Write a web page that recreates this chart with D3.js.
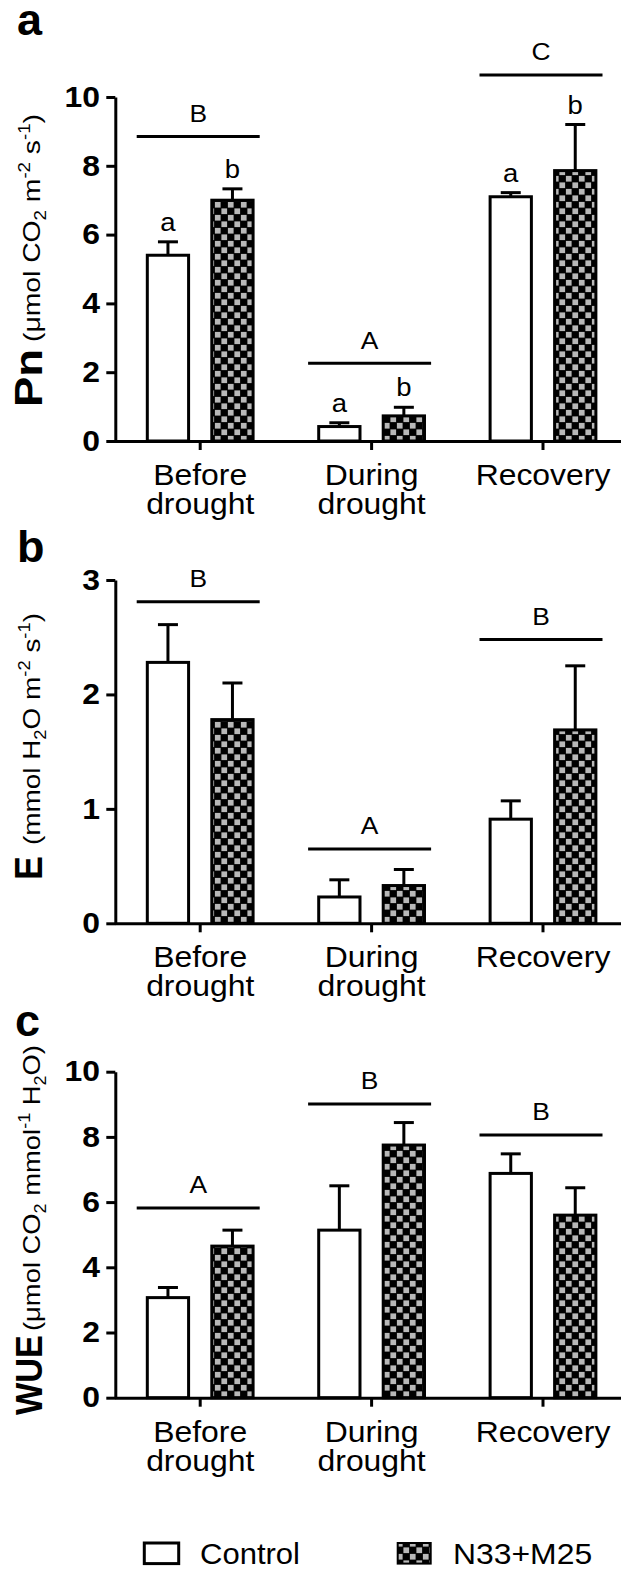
<!DOCTYPE html>
<html><head><meta charset="utf-8">
<script src="https://cdn.jsdelivr.net/npm/d3@7"></script>
<style>html,body{margin:0;padding:0;background:#fff;} svg{display:block;}</style>
</head><body>
<script>
// ---------------- data ----------------
const categories = ["Before drought", "During drought", "Recovery"];
const seriesNames = ["Control", "N33+M25"];

// Panel a: Pn
const pnControl = [5.40, 0.42, 7.10];
const pnControlErr = [0.39, 0.11, 0.12];
const pnTreat = [7.00, 0.73, 7.86];
const pnTreatErr = [0.33, 0.25, 1.34];
const pnControlLetters = ["a", "a", "a"];
const pnTreatLetters = ["b", "b", "b"];
const pnGroupLetters = ["B", "A", "C"];
const pnGroupLevels = [8.85, 2.26, 10.64];
const pnTicks = [0, 2, 4, 6, 8, 10];

// Panel b: E
const eControl = [2.28, 0.23, 0.91];
const eControlErr = [0.33, 0.15, 0.16];
const eTreat = [1.78, 0.33, 1.69];
const eTreatErr = [0.32, 0.14, 0.56];
const eGroupLetters = ["B", "A", "B"];
const eGroupLevels = [2.81, 0.65, 2.48];
const eTicks = [0, 1, 2, 3];

// Panel c: WUE
const wueControl = [3.07, 5.14, 6.88];
const wueControlErr = [0.31, 1.36, 0.60];
const wueTreat = [4.65, 7.75, 5.60];
const wueTreatErr = [0.49, 0.69, 0.84];
const wueGroupLetters = ["A", "B", "B"];
const wueGroupLevels = [5.82, 9.01, 8.06];
const wueTicks = [0, 2, 4, 6, 8, 10];

// ---------------- drawing ----------------
const W = 621, H = 1570;
const FONT = "'Liberation Sans', Arial, Helvetica, sans-serif";
const SX = 1.1;      // horizontal text stretch of the original
const SW = 3;        // line width

const svg = d3.select("body").append("svg").attr("width", W).attr("height", H)
  .style("font-family", FONT);

const defs = svg.append("defs");
const cs = 6.5;
const pat = defs.append("pattern").attr("id", "chk").attr("patternUnits", "userSpaceOnUse")
  .attr("width", cs * 2).attr("height", cs * 2);
pat.append("rect").attr("width", cs * 2).attr("height", cs * 2).attr("fill", "#000");
pat.append("rect").attr("x", 0.4).attr("y", 0.4).attr("width", cs - 0.8).attr("height", cs - 0.8).attr("fill", "#b8b8b8");
pat.append("rect").attr("x", cs + 0.4).attr("y", cs + 0.4).attr("width", cs - 0.8).attr("height", cs - 0.8).attr("fill", "#b8b8b8");

const fills = ["#fff", "url(#chk)"];

function htext(g, x, y, str, size, weight, anchor, sx) {
  return g.append("text")
    .attr("transform", `translate(${x},${y}) scale(${sx || SX},1)`)
    .attr("text-anchor", anchor || "middle")
    .attr("font-size", size).attr("font-weight", weight || "normal")
    .attr("fill", "#000").text(str);
}

function vtext(g, x, y, parts, size, weight, len) {
  const t = g.append("text")
    .attr("transform", `translate(${x},${y}) rotate(-90)`)
    .attr("text-anchor", "start")
    .attr("font-size", size).attr("font-weight", weight).attr("fill", "#000");
  let shift = 0;
  parts.forEach(p => {
    const ts = t.append("tspan");
    let target = 0, fs = size;
    if (p.sub) { target = size * 0.28; fs = size * 0.66; }
    if (p.sup) { target = -size * 0.4; fs = size * 0.66; }
    ts.attr("font-size", fs).attr("dy", target - shift).text(p.t);
    shift = target;
  });
  if (len) t.attr("textLength", len).attr("lengthAdjust", "spacingAndGlyphs");
  return t;
}

function panel(cfg) {
  const g = svg.append("g");
  const y = d3.scaleLinear().domain([0, cfg.max]).range([cfg.y0, cfg.y1]);
  const x = d3.scaleBand().domain(categories).range([114.5, 628.7]);
  const xs = d3.scaleBand().domain(seriesNames).range([-64.5, 64.5])
    .paddingInner(0.36).paddingOuter(0.18);
  const half = x.bandwidth() / 2;

  const rows = [];
  categories.forEach((c, i) => seriesNames.forEach((s, j) => {
    rows.push({ c, s, j, v: cfg.vals[j][i], e: cfg.errs[j][i],
      l: cfg.letters ? cfg.letters[j][i] : null });
  }));

  const bx = d => x(d.c) + half + xs(d.s);

  // bars
  g.selectAll("rect.bar").data(rows).join("rect").attr("class", "bar")
    .attr("x", d => bx(d)).attr("width", xs.bandwidth())
    .attr("y", d => y(d.v)).attr("height", d => y(0) - y(d.v))
    .attr("fill", d => fills[d.j]).attr("stroke", "#000").attr("stroke-width", SW);

  // error bars (upper only)
  const cx = d => bx(d) + xs.bandwidth() / 2;
  g.selectAll("line.err").data(rows).join("line").attr("class", "err")
    .attr("x1", cx).attr("x2", cx)
    .attr("y1", d => y(d.v)).attr("y2", d => y(d.v + d.e))
    .attr("stroke", "#000").attr("stroke-width", SW);
  g.selectAll("line.cap").data(rows).join("line").attr("class", "cap")
    .attr("x1", d => cx(d) - 10).attr("x2", d => cx(d) + 10)
    .attr("y1", d => y(d.v + d.e)).attr("y2", d => y(d.v + d.e))
    .attr("stroke", "#000").attr("stroke-width", SW);

  // bar letters
  if (cfg.letters) {
    rows.forEach(d => htext(g, cx(d), y(d.v + d.e) - 11, d.l, 25));
  }

  // group lines + letters
  categories.forEach((c, i) => {
    const mid = x(c) + half - 2;
    const yy = y(cfg.groupLevels[i]);
    g.append("line").attr("x1", mid - 61.5).attr("x2", mid + 61.5)
      .attr("y1", yy).attr("y2", yy).attr("stroke", "#000").attr("stroke-width", SW);
    htext(g, mid, yy - 14.5, cfg.groupLetters[i], 24);
  });

  // y axis
  const ya = g.append("g").attr("transform", "translate(115.3,0)")
    .call(d3.axisLeft(y).tickValues(cfg.ticks).tickSize(9).tickSizeOuter(0)
      .tickPadding(5).tickFormat(d3.format("d")));
  ya.select(".domain").attr("stroke-width", SW);
  ya.selectAll(".tick line").attr("stroke-width", SW);
  ya.selectAll(".tick text")
    .attr("font-family", FONT).attr("font-size", 29).attr("font-weight", "bold")
    .attr("fill", "#000")
    .attr("x", -15.3 / SX).attr("transform", `scale(${SX},1)`);

  // x axis
  const xa = g.append("g").attr("transform", `translate(0,${cfg.y0})`)
    .call(d3.axisBottom(x).tickSize(9).tickSizeOuter(0));
  xa.select(".domain").attr("stroke-width", SW);
  xa.selectAll(".tick line").attr("stroke-width", SW);
  xa.selectAll(".tick text").remove();

  categories.forEach(c => {
    const t = htext(g, x(c) + half, cfg.y0 + 44, null, 29);
    const words = c === "Recovery" ? [c] : c.split(" ");
    words.forEach((w, k) => t.append("tspan").attr("x", 0).attr("dy", k ? 29 : 0).text(w));
  });

  // y title
  vtext(g, 41.5, cfg.title.y, [{ t: cfg.title.bold }], cfg.title.bsize, "bold", cfg.title.blen);
  vtext(g, 39.5, cfg.title.uy, cfg.title.unit, 24, "normal", cfg.title.ulen);

  // panel letter
  g.append("text").attr("x", cfg.tag.x).attr("y", cfg.tag.y)
    .attr("font-size", 45).attr("font-weight", "bold").text(cfg.tag.t);
}

panel({
  y0: 441, y1: 97, max: 10, ticks: pnTicks,
  vals: [pnControl, pnTreat], errs: [pnControlErr, pnTreatErr],
  letters: [pnControlLetters, pnTreatLetters],
  groupLetters: pnGroupLetters, groupLevels: pnGroupLevels,
  title: { bold: "Pn", y: 407, bsize: 38, blen: 58, uy: 342, ulen: 228,
    unit: [{ t: "(\u03BCmol CO" }, { t: "2", sub: 1 }, { t: " m" }, { t: "-2", sup: 1 },
           { t: " s" }, { t: "-1", sup: 1 }, { t: ")" }] },
  tag: { t: "a", x: 17, y: 35 }
});

panel({
  y0: 923.3, y1: 580, max: 3, ticks: eTicks,
  vals: [eControl, eTreat], errs: [eControlErr, eTreatErr],
  letters: null,
  groupLetters: eGroupLetters, groupLevels: eGroupLevels,
  title: { bold: "E", y: 880, bsize: 38, blen: 24, uy: 845, ulen: 232,
    unit: [{ t: "(mmol H" }, { t: "2", sub: 1 }, { t: "O m" }, { t: "-2", sup: 1 },
           { t: " s" }, { t: "-1", sup: 1 }, { t: ")" }] },
  tag: { t: "b", x: 17, y: 561.5 }
});

panel({
  y0: 1397.7, y1: 1071.7, max: 10, ticks: wueTicks,
  vals: [wueControl, wueTreat], errs: [wueControlErr, wueTreatErr],
  letters: null,
  groupLetters: wueGroupLetters, groupLevels: wueGroupLevels,
  title: { bold: "WUE", y: 1415, bsize: 37, blen: 80, uy: 1331, ulen: 286,
    unit: [{ t: "(\u03BCmol CO" }, { t: "2", sub: 1 }, { t: " mmol" }, { t: "-1", sup: 1 },
           { t: " H" }, { t: "2", sub: 1 }, { t: "O)" }] },
  tag: { t: "c", x: 15, y: 1036 }
});

// legend
const lg = svg.append("g");
lg.append("rect").attr("x", 144.3).attr("y", 1543).attr("width", 34.4).attr("height", 20.6)
  .attr("fill", fills[0]).attr("stroke", "#000").attr("stroke-width", SW);
htext(lg, 200, 1564, seriesNames[0], 29, "normal", "start", 1.07);
lg.append("rect").attr("x", 397.7).attr("y", 1543).attr("width", 33).attr("height", 20.6)
  .attr("fill", fills[1]).attr("stroke", "#000").attr("stroke-width", 2);
htext(lg, 453, 1564, seriesNames[1], 29, "normal", "start", 1.1);
</script>
</body></html>
